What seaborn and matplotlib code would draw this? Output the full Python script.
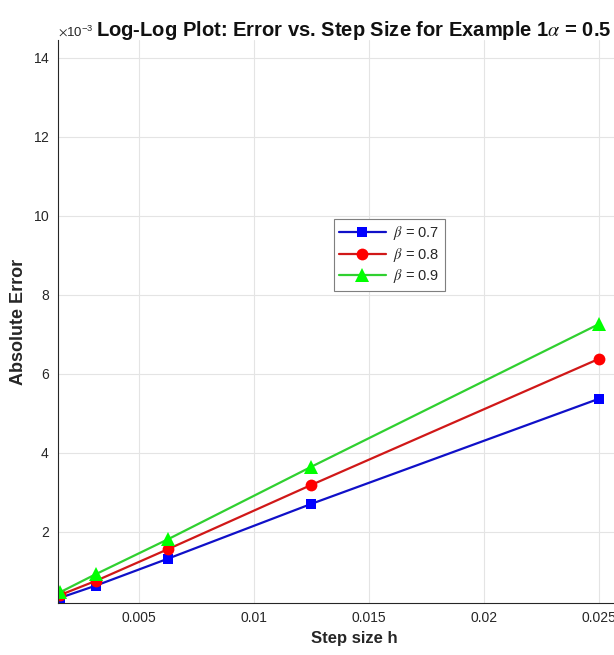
import matplotlib
matplotlib.use("Agg")
import matplotlib.pyplot as plt
import numpy as np
import pandas as pd
import seaborn as sns

# step sizes and absolute errors
step_sizes = [0.0015625, 0.003125, 0.00625, 0.0125, 0.025]
err_beta_07 = [0.00033, 0.00064, 0.00132, 0.00271, 0.00537]
err_beta_08 = [0.00040, 0.00076, 0.00156, 0.00319, 0.00638]
err_beta_09 = [0.00047, 0.00093, 0.00181, 0.00365, 0.00726]
beta_labels = [r"$\beta$ = 0.7", r"$\beta$ = 0.8", r"$\beta$ = 0.9"]
x_ticks = [0.005, 0.01, 0.015, 0.02, 0.025]
x_tick_labels = ["0.005", "0.01", "0.015", "0.02", "0.025"]
y_ticks = [0.002, 0.004, 0.006, 0.008, 0.010, 0.012, 0.014]

df = pd.DataFrame({
    "h": step_sizes * 3,
    "err": err_beta_07 + err_beta_08 + err_beta_09,
    "beta": [lab for lab in beta_labels for _ in step_sizes],
})

sns.set_style("white")
plt.rcParams["font.family"] = ["Liberation Sans", "DejaVu Sans"]
plt.rcParams["mathtext.fontset"] = "stix"

W, H = 614, 655
fig = plt.figure(figsize=(W / 100, H / 100), dpi=100)
# the original axes run past the right edge of the (cropped) picture
ax = fig.add_axes([58 / W, 1 - 603 / H, (650 - 58) / W, (603 - 40) / H])

palette = dict(zip(beta_labels, ["#0000ff", "#ff0000", "#00ff00"]))
markers = dict(zip(beta_labels, ["s", "o", "^"]))
sns.lineplot(data=df, x="h", y="err", hue="beta", style="beta",
             palette=palette, markers=markers, dashes=False,
             linewidth=1.6, markersize=8.5, markeredgecolor=None,
             markeredgewidth=0, legend=False, ax=ax)

lines = ax.get_lines()[:3]
lines[0].set_markersize(7.5)
lines[2].set_markersize(9.5)
lines[0].set_color("#1010c8")
lines[0].set_markerfacecolor("#0000ff")
lines[1].set_color("#d01818")
lines[1].set_markerfacecolor("#ff0000")
lines[2].set_color("#30d030")
lines[2].set_markerfacecolor("#00ff00")

ax.set_xlim(0.00148, 0.02722)
ax.set_ylim(0.0002, 0.01445)
ax.set_xticks(x_ticks)
ax.set_xticklabels(x_tick_labels)
ax.set_yticks(y_ticks)
ax.ticklabel_format(axis="y", style="sci", scilimits=(-3, -3), useMathText=True)

grey = "#262626"
ax.grid(True, color="#e4e4e4", linewidth=0.8)
ax.tick_params(direction="in", length=5, width=0.8, colors=grey,
               labelsize=10, pad=6)
ax.yaxis.get_offset_text().set_fontsize(9.5)
ax.yaxis.get_offset_text().set_color(grey)
for side in ["top", "right"]:
    ax.spines[side].set_visible(False)
for side in ["left", "bottom"]:
    ax.spines[side].set_color(grey)
    ax.spines[side].set_linewidth(0.8)

ax.set_xlabel("Step size h", fontsize=12, fontweight="bold", color=grey, labelpad=4)
ax.set_ylabel("Absolute Error", fontsize=13, fontweight="bold", color=grey, labelpad=4)
# fixed y so the offset text does not push the title upwards
ax.set_title(r"Log-Log Plot: Error vs. Step Size for Example 1$\alpha$ = 0.5",
             fontsize=14.5, fontweight="bold", color="#111111", y=1.0, pad=3)

leg = ax.legend(lines, beta_labels, loc="upper left",
                bbox_to_anchor=(334 / W, 1 - 219 / H), bbox_transform=fig.transFigure,
                borderaxespad=0, fancybox=False, framealpha=1, edgecolor="#7f7f7f",
                fontsize=10.5, handlelength=3.2, handletextpad=0.5,
                borderpad=0.35, labelspacing=0.25)
leg.get_frame().set_linewidth(0.8)
for t in leg.get_texts():
    t.set_color(grey)

fig.savefig("out.png", dpi=100)
